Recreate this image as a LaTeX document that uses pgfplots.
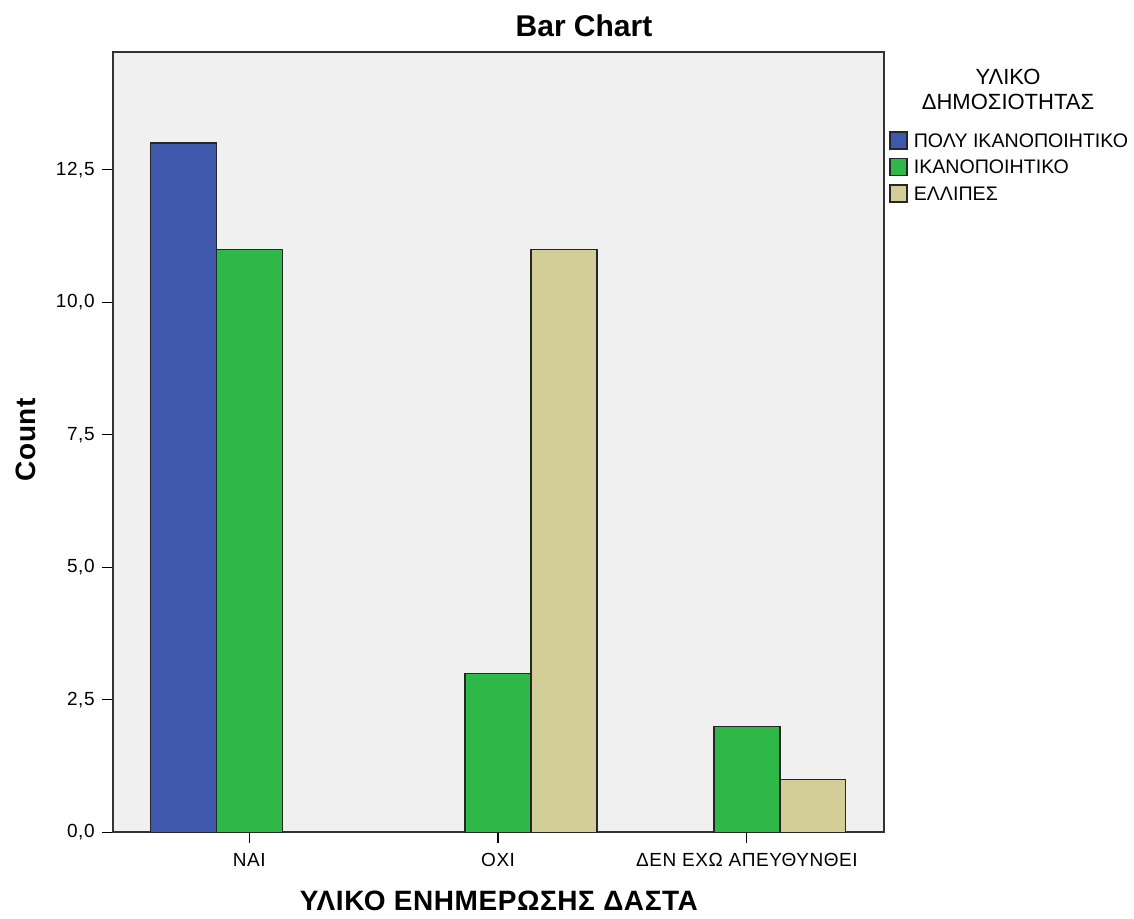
\documentclass[border=0pt]{standalone}
\usepackage{fontspec}
\setmainfont{Liberation Sans}
\newfontfamily\tickfont[LetterSpace=3]{Liberation Sans}
\newfontfamily\labfont[LetterSpace=2]{Liberation Sans}
\usepackage{pgfplots}
\pgfplotsset{compat=1.18}
\definecolor{cblue}{RGB}{62,88,172}
\definecolor{cgreen}{RGB}{46,184,72}
\definecolor{cbeige}{RGB}{211,206,151}
\definecolor{cbg}{RGB}{240,240,240}
\pgfplotsset{mybar/.style={ybar, bar width=0.265, draw=black!85, line width=0.7pt,
  legend image code/.code={\draw[##1] (0pt,-4.25pt) rectangle (8.5pt,4.25pt);}}}
\begin{document}
\begin{tikzpicture}
\path[use as bounding box] (0,0) rectangle (567pt,459pt);
\begin{axis}[
  at={(56.35pt,42.85pt)}, anchor=south west,
  scale only axis, width=385.5pt, height=390.15pt,
  xmin=-0.549, xmax=2.55, ymin=0, ymax=14.72,
  xtick={0,1,2},
  xticklabels={ΝΑΙ, ΟΧΙ, ΔΕΝ ΕΧΩ ΑΠΕΥΘΥΝΘΕΙ},
  ytick={0,2.5,5,7.5,10,12.5},
  yticklabel style={/pgf/number format/.cd, fixed, fixed zerofill, precision=1, use comma},
  /pgf/number format/assume math mode=true,
  tick label style={font=\tickfont\fontsize{9.5}{11}\selectfont},
  xticklabel style={yshift=-1.5pt},
  tick align=outside, major tick length=5.5pt,
  xtick pos=bottom, ytick pos=left,
  tick style={black, line width=0.6pt},
  axis background/.style={fill=cbg},
  axis line style={black!80, line width=1pt},
  title={Bar Chart},
  title style={at={(axis description cs:0.6113,1)}, anchor=base, yshift=1.65pt, font=\bfseries\fontsize{15}{18}\selectfont},
  xlabel={ΥΛΙΚΟ ΕΝΗΜΕΡΩΣΗΣ ΔΑΣΤΑ},
  xlabel style={at={(axis description cs:0.501,0)}, anchor=base, yshift=-38.85pt, font=\labfont\bfseries\fontsize{14}{16}\selectfont},
  ylabel={Count},
  ylabel style={at={(axis description cs:-0.1125,0.503)}, anchor=center, font=\labfont\bfseries\fontsize{14}{16}\selectfont},
  legend cell align=left,
  legend style={draw=none, fill=none, at={(axis description cs:1.0069,0.8988)}, anchor=north west,
    font=\fontsize{9.8}{11}\selectfont, row sep=4pt, inner sep=0pt,
    nodes={inner sep=0pt, text depth=0pt},
    /tikz/every odd column/.append style={column sep=3pt}},
]
\addplot[mybar, fill=cblue, bar shift=-0.265] coordinates {(0,13)};
\addlegendentry{ΠΟΛΥ ΙΚΑΝΟΠΟΙΗΤΙΚΟ}
\addplot[mybar, fill=cgreen, bar shift=0] coordinates {(0,11) (1,3) (2,2)};
\addlegendentry{ΙΚΑΝΟΠΟΙΗΤΙΚΟ}
\addplot[mybar, fill=cbeige, bar shift=0.265] coordinates {(1,11) (2,1)};
\addlegendentry{ΕΛΛΙΠΕΣ}
\end{axis}
\node[anchor=base, font=\fontsize{11}{13}\selectfont] at (504pt,416.5pt) {ΥΛΙΚΟ};
\node[anchor=base, font=\fontsize{11}{13}\selectfont] at (504pt,404pt) {ΔΗΜΟΣΙΟΤΗΤΑΣ};
\end{tikzpicture}
\end{document}
